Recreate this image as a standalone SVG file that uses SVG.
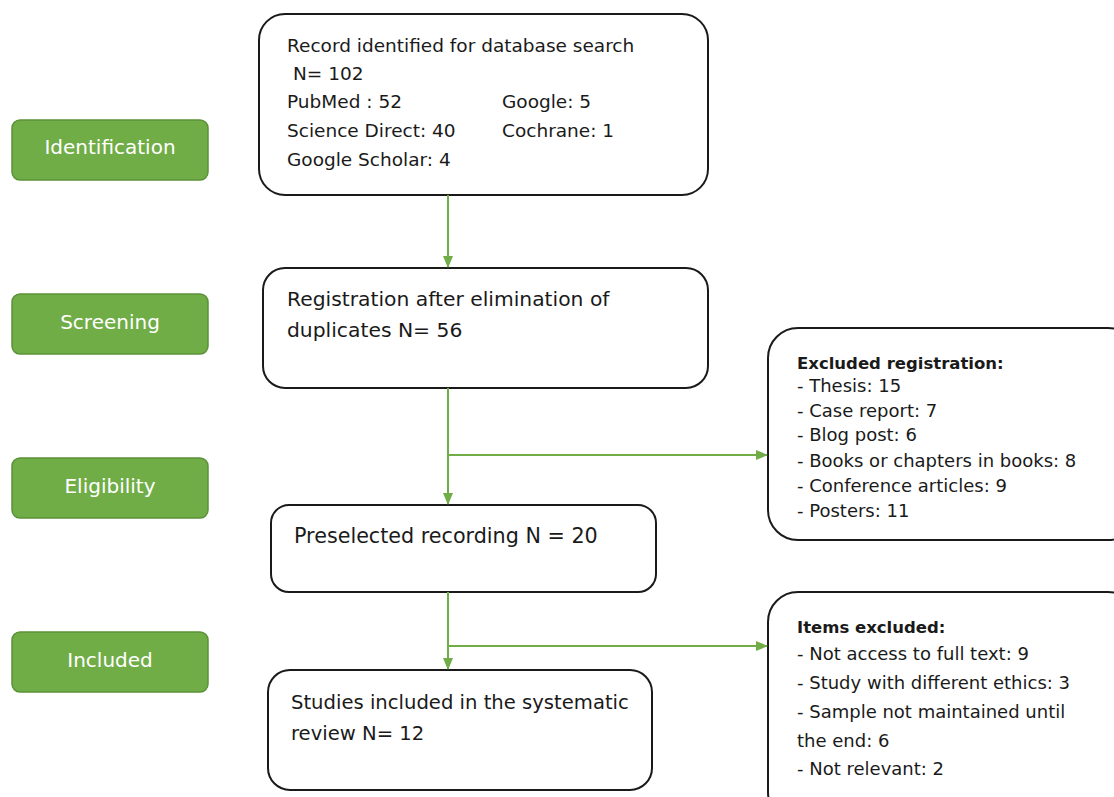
<svg xmlns="http://www.w3.org/2000/svg" width="1114" height="797" viewBox="0 0 1114 797">
<defs>
<marker id="ah" markerWidth="12" markerHeight="10" refX="11" refY="5" orient="auto" markerUnits="userSpaceOnUse">
<path d="M0,0 L12,5 L0,10 z" fill="#70AD47"/>
</marker>
<style>
.stage rect{fill:#70AD47;stroke:#5B9138;stroke-width:1.5}
.stage text{fill:#fff;font-family:"DejaVu Sans",Arial,sans-serif;font-size:20px;text-anchor:middle}
.box rect{fill:#fff;stroke:#1a1a1a;stroke-width:2}
.box text{fill:#1a1a1a;font-family:"DejaVu Sans",Arial,sans-serif;font-size:18px}
.box .t1{font-size:18.5px}
.box .lg{font-size:20.3px}
.box .xl{font-size:20.7px}
.box .md{font-size:19.6px}
.box .b{font-weight:bold;font-size:16.5px}
.conn path{fill:none;stroke:#70AD47;stroke-width:2}
</style>
</defs>
<rect width="1114" height="797" fill="#fff"/>

<g id="stage-identification" class="stage"><rect x="12" y="120" width="196" height="60" rx="8"/><text x="110" y="154">Identification</text></g>
<g id="stage-screening" class="stage"><rect x="12" y="294" width="196" height="60" rx="8"/><text x="110" y="329">Screening</text></g>
<g id="stage-eligibility" class="stage"><rect x="12" y="458" width="196" height="60" rx="8"/><text x="110" y="493">Eligibility</text></g>
<g id="stage-included" class="stage"><rect x="12" y="632" width="196" height="60" rx="8"/><text x="110" y="667">Included</text></g>

<g id="box-identified" class="box">
<rect x="259" y="14" width="449" height="181" rx="26"/>
<text class="t1" x="287" y="52">Record identified for database search</text>
<text class="t1" x="293" y="80">N= 102</text>
<text class="t1" x="287" y="108">PubMed : 52</text>
<text class="t1" x="502" y="108">Google: 5</text>
<text class="t1" x="287" y="137">Science Direct: 40</text>
<text class="t1" x="502" y="137">Cochrane: 1</text>
<text class="t1" x="287" y="166">Google Scholar: 4</text>
</g>

<g id="box-screening" class="box">
<rect x="263" y="268" width="445" height="120" rx="22"/>
<text class="lg" x="287" y="306">Registration after elimination of</text>
<text class="lg" x="287" y="337">duplicates N= 56</text>
</g>

<g id="box-preselected" class="box">
<rect x="271" y="505" width="385" height="87" rx="18"/>
<text class="xl" x="294" y="543">Preselected recording N = 20</text>
</g>

<g id="box-included" class="box">
<rect x="268" y="670" width="384" height="120" rx="22"/>
<text class="md" x="291" y="709">Studies included in the systematic</text>
<text class="md" x="291" y="740">review N= 12</text>
</g>

<g id="box-excluded-registration" class="box">
<rect x="768" y="328" width="370" height="212" rx="30"/>
<text class="b" x="797" y="369">Excluded registration:</text>
<text x="797" y="392">- Thesis: 15</text>
<text x="797" y="417">- Case report: 7</text>
<text x="797" y="441">- Blog post: 6</text>
<text x="797" y="467">- Books or chapters in books: 8</text>
<text x="797" y="492">- Conference articles: 9</text>
<text x="797" y="517">- Posters: 11</text>
</g>

<g id="box-items-excluded" class="box">
<rect x="768" y="592" width="370" height="230" rx="30"/>
<text class="b" x="797" y="633">Items excluded:</text>
<text x="797" y="660">- Not access to full text: 9</text>
<text x="797" y="689">- Study with different ethics: 3</text>
<text x="797" y="718">- Sample not maintained until</text>
<text x="797" y="747">the end: 6</text>
<text x="797" y="775">- Not relevant: 2</text>
</g>

<g id="connectors" class="conn">
<path d="M448,195 V267" marker-end="url(#ah)"/>
<path d="M448,388 V504" marker-end="url(#ah)"/>
<path d="M448,455 H767" marker-end="url(#ah)"/>
<path d="M448,592 V669" marker-end="url(#ah)"/>
<path d="M448,646 H767" marker-end="url(#ah)"/>
</g>
</svg>
